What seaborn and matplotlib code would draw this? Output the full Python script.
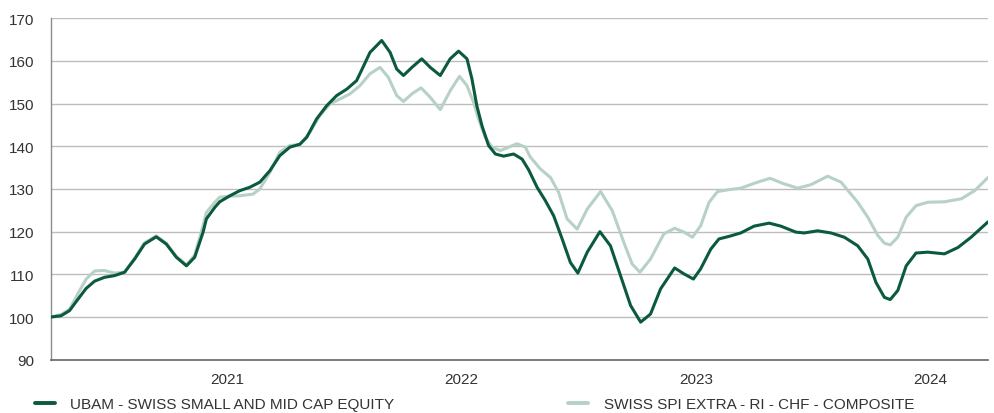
import numpy as np
import pandas as pd
import matplotlib
matplotlib.use("Agg")
import matplotlib.pyplot as plt
import seaborn as sns

# ---- data (x in decimal years, values indexed to 100) ----
ubam_name = "UBAM - SWISS SMALL AND MID CAP EQUITY"
spi_name = "SWISS SPI EXTRA - RI - CHF - COMPOSITE"

ubam_x = [2020.248, 2020.291, 2020.327, 2020.362, 2020.398, 2020.434, 2020.476, 2020.519,
          2020.562, 2020.605, 2020.647, 2020.697, 2020.740, 2020.783, 2020.826, 2020.861,
          2020.897, 2020.911, 2020.947, 2020.968, 2021.011, 2021.053, 2021.096, 2021.139,
          2021.182, 2021.224, 2021.267, 2021.310, 2021.339, 2021.381, 2021.424, 2021.467,
          2021.510, 2021.552, 2021.579, 2021.609, 2021.659, 2021.695, 2021.723, 2021.752,
          2021.788, 2021.830, 2021.866, 2021.909, 2021.951, 2021.987, 2022.023, 2022.044,
          2022.065, 2022.087, 2022.115, 2022.144, 2022.179, 2022.222, 2022.258, 2022.286,
          2022.322, 2022.357, 2022.393, 2022.429, 2022.464, 2022.496, 2022.536, 2022.590,
          2022.635, 2022.678, 2022.721, 2022.764, 2022.806, 2022.849, 2022.909, 2022.949,
          2022.989, 2023.020, 2023.063, 2023.098, 2023.141, 2023.191, 2023.248, 2023.312,
          2023.362, 2023.426, 2023.462, 2023.519, 2023.576, 2023.633, 2023.690, 2023.733,
          2023.768, 2023.804, 2023.829, 2023.861, 2023.897, 2023.939, 2023.989, 2024.060,
          2024.118, 2024.174, 2024.246]
ubam_y = [100.0, 100.3, 101.5, 104.1, 106.7, 108.4, 109.3, 109.7,
          110.5, 113.6, 117.1, 118.8, 117.1, 114.0, 112.0, 114.0,
          119.9, 123.0, 125.7, 127.0, 128.4, 129.6, 130.4, 131.6,
          134.3, 137.8, 139.8, 140.5, 142.1, 146.4, 149.5, 151.9,
          153.4, 155.4, 158.5, 162.0, 164.8, 162.0, 158.1, 156.6,
          158.5, 160.5, 158.5, 156.6, 160.5, 162.3, 160.5, 155.8,
          149.5, 144.8, 140.2, 138.2, 137.7, 138.2, 137.0, 134.5,
          130.4, 127.3, 123.7, 118.3, 112.8, 110.3, 115.2, 120.0,
          116.7, 109.7, 102.7, 98.8, 100.7, 106.6, 111.5, 110.1,
          108.9, 111.3, 115.9, 118.3, 118.9, 119.7, 121.3, 122.0,
          121.3, 119.9, 119.7, 120.2, 119.7, 118.7, 116.7, 113.6,
          108.1, 104.6, 104.1, 106.2, 112.0, 115.0, 115.2, 114.8,
          116.3, 118.7, 122.3]

spi_x = [2020.248, 2020.291, 2020.327, 2020.362, 2020.398, 2020.434, 2020.476, 2020.519,
         2020.562, 2020.605, 2020.647, 2020.697, 2020.740, 2020.783, 2020.826, 2020.861,
         2020.897, 2020.911, 2020.947, 2020.968, 2021.011, 2021.053, 2021.110, 2021.139,
         2021.182, 2021.224, 2021.267, 2021.310, 2021.353, 2021.395, 2021.438, 2021.481,
         2021.524, 2021.566, 2021.609, 2021.652, 2021.687, 2021.723, 2021.752, 2021.788,
         2021.827, 2021.866, 2021.909, 2021.951, 2021.991, 2022.023, 2022.051, 2022.072,
         2022.101, 2022.130, 2022.165, 2022.201, 2022.236, 2022.272, 2022.293, 2022.336,
         2022.379, 2022.414, 2022.450, 2022.493, 2022.536, 2022.593, 2022.643, 2022.692,
         2022.728, 2022.761, 2022.806, 2022.863, 2022.909, 2022.949, 2022.985, 2023.020,
         2023.056, 2023.092, 2023.134, 2023.191, 2023.263, 2023.316, 2023.376, 2023.434,
         2023.490, 2023.562, 2023.619, 2023.690, 2023.733, 2023.776, 2023.804, 2023.829,
         2023.861, 2023.897, 2023.939, 2023.989, 2024.060, 2024.132, 2024.189, 2024.246]
spi_y = [100.0, 100.6, 101.8, 105.4, 108.9, 110.8, 110.9, 110.3,
         110.5, 113.8, 117.4, 119.0, 117.3, 114.2, 112.2, 114.5,
         121.5, 124.5, 126.9, 128.1, 128.3, 128.4, 128.8, 130.0,
         133.9, 138.6, 140.2, 140.4, 143.3, 147.2, 149.9, 151.1,
         152.3, 154.2, 157.0, 158.5, 156.2, 151.9, 150.5, 152.3,
         153.7, 151.5, 148.6, 153.0, 156.4, 154.2, 150.3, 146.4,
         142.1, 139.8, 139.0, 139.8, 140.6, 139.8, 137.5, 134.7,
         132.7, 129.2, 123.0, 120.6, 125.3, 129.4, 124.9, 117.5,
         112.4, 110.5, 113.6, 119.5, 120.8, 119.9, 118.7, 121.4,
         126.9, 129.4, 129.8, 130.2, 131.6, 132.5, 131.2, 130.2,
         131.0, 133.0, 131.6, 126.9, 123.4, 119.1, 117.3, 116.9,
         118.7, 123.4, 126.1, 126.9, 127.0, 127.7, 129.6, 132.7]

x_ticks = [2021, 2022, 2023, 2024]
y_ticks = [90, 100, 110, 120, 130, 140, 150, 160, 170]

dark = "#0b5a3c"
light = "#b7d1c6"

df = pd.concat([
    pd.DataFrame({"x": ubam_x, "y": ubam_y, "series": ubam_name}),
    pd.DataFrame({"x": spi_x, "y": spi_y, "series": spi_name}),
], ignore_index=True)

sns.set_style("white")
plt.rcParams["font.family"] = ["Liberation Sans", "DejaVu Sans"]

fig = plt.figure(figsize=(9.95, 4.14), dpi=100)
ax = fig.add_axes([51 / 995, 1 - 360.7 / 414, (988 - 51) / 995, (360.7 - 19.3) / 414])

sns.lineplot(data=df, x="x", y="y", hue="series", hue_order=[ubam_name, spi_name],
             palette={ubam_name: dark, spi_name: light}, linewidth=2.2,
             ax=ax, legend=False, sort=False, estimator=None)
for line in ax.get_lines():
    line.set_solid_joinstyle("round")
    line.set_solid_capstyle("round")
    if line.get_color() == dark:
        line.set_zorder(3)
    else:
        line.set_zorder(2)

ax.set_xlim(min(ubam_x), max(ubam_x))
ax.set_ylim(90, 170)
ax.set_xticks(x_ticks)
ax.set_xticklabels([str(t) for t in x_ticks])
ax.set_yticks(y_ticks)
ax.set_xlabel("")
ax.set_ylabel("")

ax.grid(axis="y", color="#bdbdbd", linewidth=1.0)
ax.grid(axis="x", visible=False)
ax.set_axisbelow(True)
for s in ["top", "right"]:
    ax.spines[s].set_visible(False)
ax.spines["left"].set_color("#8c8c8c")
ax.spines["left"].set_linewidth(1.0)
ax.spines["bottom"].set_color("#666666")
ax.spines["bottom"].set_linewidth(1.2)

ax.tick_params(axis="both", length=0, labelsize=11, labelcolor="#333333")
ax.tick_params(axis="y", pad=12)
ax.tick_params(axis="x", pad=9)

from matplotlib.lines import Line2D
handles = [Line2D([], [], color=dark, linewidth=2.8),
           Line2D([], [], color=light, linewidth=2.8)]
fig.legend(handles, [ubam_name, spi_name], loc="lower left",
           bbox_to_anchor=(35 / 995, 2 / 414), ncol=2, frameon=False,
           borderpad=0, borderaxespad=0,
           fontsize=11, labelcolor="#333333", handlelength=1.3,
           handletextpad=1.0, columnspacing=11.4)

fig.savefig("out.png", dpi=100, facecolor="white")
